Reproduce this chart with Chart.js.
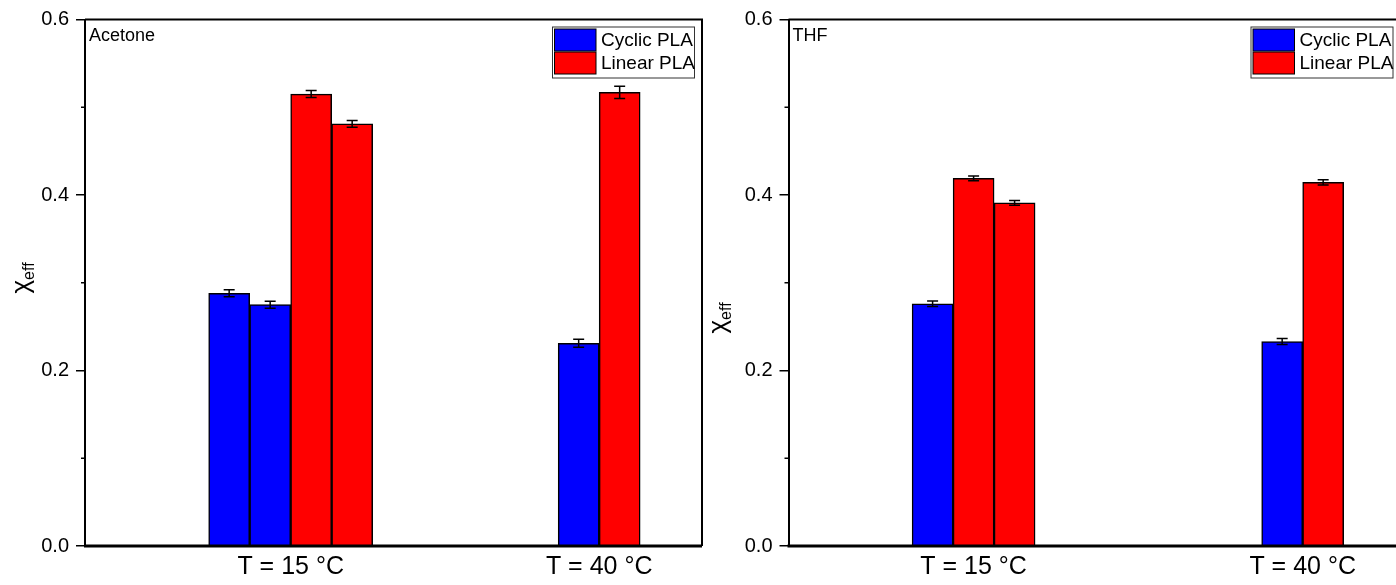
<!DOCTYPE html>
<html>
<head>
<meta charset="utf-8">
<script src="https://cdn.jsdelivr.net/npm/chart.js@4/dist/chart.umd.min.js"></script>
<style>
  html, body { margin: 0; padding: 0; background: #fff; overflow: hidden; }
  #wrap { position: relative; width: 1396px; height: 585px; overflow: hidden; background: #fff; }
  .panel { position: absolute; top: 0; height: 585px; }
  #left { left: 0; width: 710px; }
  #right { left: 700px; width: 716px; }
</style>
</head>
<body>
<div id="wrap">
  <div class="panel" id="left"><canvas id="chartAcetone"></canvas></div>
  <div class="panel" id="right"><canvas id="chartTHF"></canvas></div>
</div>
<script>
// categories and y tick labels
var categories = ['T = 15 °C', 'T = 40 °C'];
var yTicks = [0.0, 0.2, 0.4, 0.6];

// Acetone panel (x = position of each temperature group on the axis)
var acetoneX = [1, 2.5];
var acetoneCyclicA = [0.288, 0.231];
var acetoneCyclicB = [0.275, null];
var acetoneLinearA = [0.515, 0.517];
var acetoneLinearB = [0.481, null];
var acetoneCyclicAErr = [0.004, 0.0045];
var acetoneCyclicBErr = [0.004, null];
var acetoneLinearAErr = [0.004, 0.007];
var acetoneLinearBErr = [0.0038, null];

// THF panel
var thfX = [0.9, 2.5];
var thfCyclic = [0.276, 0.233];
var thfLinearA = [0.419, 0.4145];
var thfLinearB = [0.391, null];
var thfCyclicErr = [0.0032, 0.0034];
var thfLinearAErr = [0.0027, 0.003];
var thfLinearBErr = [0.0028, null];

var BLUE = '#0000ff', RED = '#ff0000';
Chart.defaults.font.family = "'Liberation Sans', Arial, sans-serif";
Chart.defaults.color = '#000';

function makeSet(label, color, xs, ys, errs) {
  return {
    label: label,
    backgroundColor: color,
    borderColor: '#000',
    borderWidth: 1.5,
    barThickness: 41,
    skipNull: true,
    data: xs.map(function(x, i) { return { x: x, y: ys[i] }; }),
    errors: errs
  };
}

// frame, error bars, minor ticks, legend box, labels
var panelPlugin = {
  id: 'panel',
  afterDatasetsDraw: function(chart, args, opts) {
    var ctx = chart.ctx, area = chart.chartArea, ys = chart.scales.y;
    ctx.save();
    ctx.strokeStyle = '#000';
    ctx.lineWidth = 1.5;
    chart.data.datasets.forEach(function(ds, i) {
      var meta = chart.getDatasetMeta(i);
      meta.data.forEach(function(bar, j) {
        var v = ds.data[j].y, e = ds.errors[j];
        if (v == null || e == null) return;
        var top = ys.getPixelForValue(v + e), bot = ys.getPixelForValue(v - e);
        ctx.beginPath();
        ctx.moveTo(bar.x, top); ctx.lineTo(bar.x, bot);
        ctx.moveTo(bar.x - 5.5, top); ctx.lineTo(bar.x + 5.5, top);
        ctx.moveTo(bar.x - 5.5, bot); ctx.lineTo(bar.x + 5.5, bot);
        ctx.stroke();
      });
    });

    // plot frame
    ctx.lineWidth = 2;
    ctx.beginPath();
    ctx.moveTo(area.left, area.top); ctx.lineTo(area.right, area.top);
    ctx.lineTo(area.right, area.bottom);
    ctx.stroke();
    ctx.lineWidth = 3;
    ctx.beginPath();
    ctx.moveTo(area.left - 1, area.bottom); ctx.lineTo(area.right, area.bottom);
    ctx.stroke();

    // minor ticks halfway between the major ones
    ctx.lineWidth = 1.5;
    var t = ys.ticks;
    for (var k = 0; k < t.length - 1; k++) {
      var py = ys.getPixelForValue((t[k].value + t[k + 1].value) / 2);
      ctx.beginPath();
      ctx.moveTo(area.left - 4, py); ctx.lineTo(area.left, py);
      ctx.stroke();
    }

    // solvent label
    ctx.fillStyle = '#000';
    ctx.font = "18px 'Liberation Sans', Arial, sans-serif";
    ctx.textAlign = 'left';
    ctx.textBaseline = 'alphabetic';
    ctx.fillText(opts.label, area.left + 4, area.top + 21);

    // legend box
    var seen = {}, items = [];
    chart.data.datasets.forEach(function(ds) {
      if (!seen[ds.label]) { seen[ds.label] = true; items.push(ds); }
    });
    var bw = 142, rowH = 23;
    var bh = items.length * rowH + 5;
    var bx = area.right - opts.legendInset - bw, by = area.top + 7;
    ctx.fillStyle = '#fff';
    ctx.fillRect(bx, by, bw, bh);
    ctx.lineWidth = 1;
    ctx.strokeStyle = '#333';
    ctx.strokeRect(bx + 0.5, by + 0.5, bw, bh);
    ctx.font = "19px 'Liberation Sans', Arial, sans-serif";
    ctx.textBaseline = 'middle';
    items.forEach(function(ds, k) {
      var sy = by + 2.5 + k * rowH;
      ctx.fillStyle = ds.backgroundColor;
      ctx.fillRect(bx + 2.5, sy, 41.5, 22);
      ctx.strokeStyle = '#000';
      ctx.strokeRect(bx + 2.5, sy, 41.5, 22);
      ctx.fillStyle = '#000';
      ctx.fillText(ds.label, bx + 49, sy + 11.5);
    });

    // y axis title: chi with subscript eff
    ctx.translate(opts.yTitleX, opts.yTitleY);
    ctx.rotate(-Math.PI / 2);
    ctx.textBaseline = 'alphabetic';
    ctx.font = "26px 'Liberation Sans', Arial, sans-serif";
    var w1 = ctx.measureText('χ').width;
    ctx.font = "16px 'Liberation Sans', Arial, sans-serif";
    var w2 = ctx.measureText('eff').width;
    var x0 = -(w1 + w2) / 2;
    ctx.font = "26px 'Liberation Sans', Arial, sans-serif";
    ctx.fillText('χ', x0, 4);
    ctx.font = "16px 'Liberation Sans', Arial, sans-serif";
    ctx.fillText('eff', x0 + w1, 9);
    ctx.restore();
  }
};

function drawPanel(canvasId, xs, datasets, p) {
  var ctx = document.getElementById(canvasId).getContext('2d');
  return new Chart(ctx, {
    type: 'bar',
    data: { datasets: datasets },
    plugins: [panelPlugin],
    options: {
      responsive: true,
      maintainAspectRatio: false,
      animation: false,
      layout: { padding: { top: 19.5, right: p.padRight, left: 0, bottom: 0 } },
      plugins: {
        legend: { display: false },
        tooltip: { enabled: false },
        panel: { label: p.label, legendInset: p.legendInset, yTitleX: p.yTitleX, yTitleY: p.yTitleY }
      },
      scales: {
        x: {
          type: 'linear',
          min: 0,
          max: 3,
          offset: false,
          grid: { display: false, drawTicks: false, offset: false },
          border: { display: false },
          afterBuildTicks: function(s) { s.ticks = xs.map(function(v) { return { value: v }; }); },
          afterFit: function(s) { s.height = 39; },
          ticks: {
            autoSkip: false,
            maxRotation: 0,
            padding: 6,
            font: { size: 25 },
            callback: function(v, i) { return categories[i]; }
          }
        },
        y: {
          min: 0,
          max: 0.6,
          grid: { display: true, drawOnChartArea: false, drawTicks: true, tickLength: 9, lineWidth: 1.5, color: '#000' },
          border: { display: true, width: 2, color: '#000' },
          afterBuildTicks: function(s) { s.ticks = yTicks.map(function(v) { return { value: v }; }); },
          afterFit: function(s) { s.width = p.axisWidth; },
          ticks: {
            padding: 7,
            font: { size: 20 },
            callback: function(v) { return Number(v).toFixed(1); }
          }
        }
      }
    }
  });
}

drawPanel('chartAcetone', acetoneX, [
  makeSet('Cyclic PLA', BLUE, acetoneX, acetoneCyclicA, acetoneCyclicAErr),
  makeSet('Cyclic PLA', BLUE, acetoneX, acetoneCyclicB, acetoneCyclicBErr),
  makeSet('Linear PLA', RED, acetoneX, acetoneLinearA, acetoneLinearAErr),
  makeSet('Linear PLA', RED, acetoneX, acetoneLinearB, acetoneLinearBErr)
], { label: 'Acetone', padRight: 8, axisWidth: 85, legendInset: 8, yTitleX: 25, yTitleY: 278 });

drawPanel('chartTHF', thfX, [
  makeSet('Cyclic PLA', BLUE, thfX, thfCyclic, thfCyclicErr),
  makeSet('Linear PLA', RED, thfX, thfLinearA, thfLinearAErr),
  makeSet('Linear PLA', RED, thfX, thfLinearB, thfLinearBErr)
], { label: 'THF', padRight: 10.5, axisWidth: 88.5, legendInset: 13, yTitleX: 22, yTitleY: 318 });
</script>
</body>
</html>
